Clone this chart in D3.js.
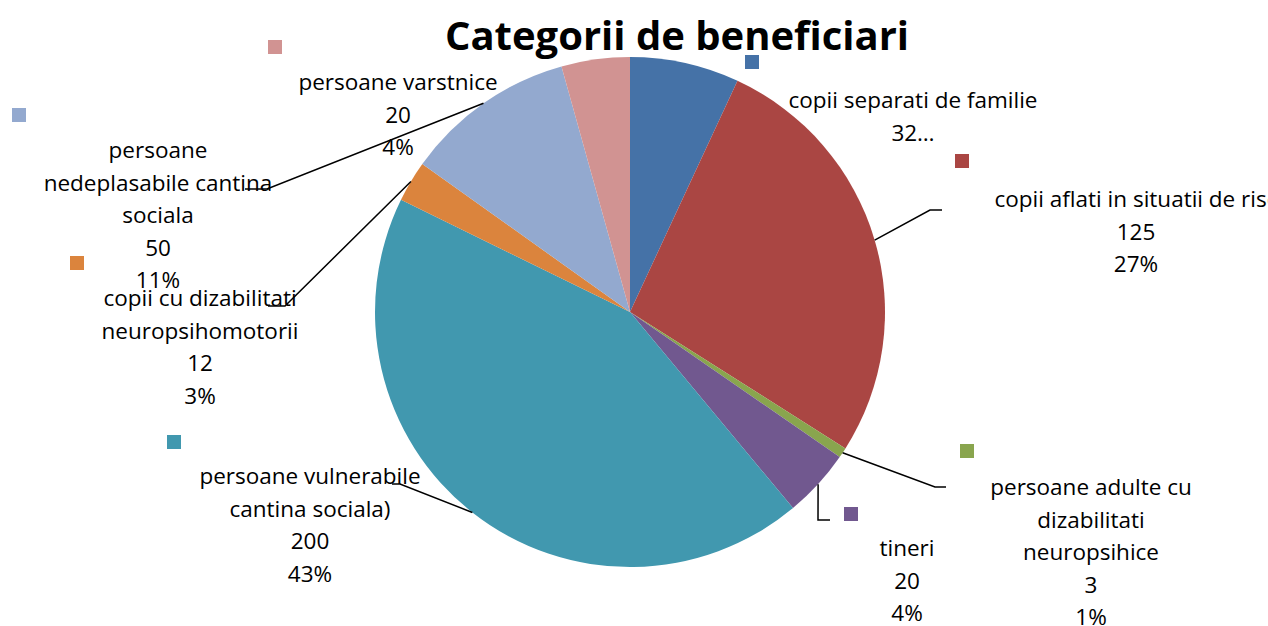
<!DOCTYPE html>
<html>
<head>
<meta charset="utf-8">
<script src="https://cdn.jsdelivr.net/npm/d3@7"></script>
<style>
  body { margin: 0; background: #fff; }
  svg { display: block; font-family: "Open Sans", "Noto Sans", sans-serif; }
</style>
</head>
<body>
<svg width="1268" height="626"></svg>
<script>
const width = 1268;
const height = 626;

// data
const categories = [
  "copii separati de familie",
  "copii aflati in situatii de risc",
  "persoane adulte cu dizabilitati neuropsihice",
  "tineri",
  "persoane vulnerabile cantina sociala)",
  "copii cu dizabilitati neuropsihomotorii",
  "persoane nedeplasabile cantina sociala",
  "persoane varstnice"
];
const values = [32, 125, 3, 20, 200, 12, 50, 20];
const colors = ["#4572A7", "#AA4643", "#89A54E", "#71588F", "#4198AF", "#DB843D", "#93A9CF", "#D19392"];

// how each label wraps, as in the original
const labelLines = [
  ["copii separati de familie"],
  ["copii aflati in situatii de risc"],
  ["persoane adulte cu", "dizabilitati", "neuropsihice"],
  ["tineri"],
  ["persoane vulnerabile", "cantina sociala)"],
  ["copii cu dizabilitati", "neuropsihomotorii"],
  ["persoane", "nedeplasabile cantina", "sociala"],
  ["persoane varstnice"]
];

// label layout: text centre x, first line y, legend key, leader elbow / end
const labelLayout = [
  { x: 913, y: 108, key: [745, 55], leader: null, truncValue: true },
  { x: 1136, y: 207, key: [955, 154], leader: [[930, 210], [942, 210]] },
  { x: 1091, y: 495, key: [960, 444], leader: [[935, 487], [946, 487]] },
  { x: 907, y: 556, key: [844, 507], leader: [[818, 520], [830, 520]] },
  { x: 310, y: 484, key: [167, 435], leader: [[400, 484], [392, 484]] },
  { x: 200, y: 306, key: [70, 256], leader: [[285, 306], [268, 306]] },
  { x: 158, y: 158, key: [12, 108], leader: [[267, 189], [245, 189]] },
  { x: 398, y: 90, key: [268, 40], leader: null }
];

const cx = 630, cy = 312, radius = 255;
const lineH = 32.5;

const svg = d3.select("svg");
const total = d3.sum(values);

const pie = d3.pie().sort(null).value(d => d)(values);
const arc = d3.arc().innerRadius(0).outerRadius(radius);

const g = svg.append("g").attr("transform", `translate(${cx},${cy})`);

g.selectAll("path")
  .data(pie)
  .join("path")
  .attr("d", arc)
  .attr("fill", (d, i) => colors[i]);

// leader lines from slice edge at mid angle
const leaders = svg.append("g")
  .attr("fill", "none")
  .attr("stroke", "#000")
  .attr("stroke-width", 1.5);

pie.forEach((d, i) => {
  const lay = labelLayout[i];
  if (!lay.leader) return;
  const a = (d.startAngle + d.endAngle) / 2;
  const start = [cx + radius * Math.sin(a), cy - radius * Math.cos(a)];
  leaders.append("path")
    .attr("d", d3.line()([start, ...lay.leader]));
});

// legend keys
svg.append("g")
  .selectAll("rect")
  .data(labelLayout)
  .join("rect")
  .attr("x", d => d.key[0])
  .attr("y", d => d.key[1])
  .attr("width", 14)
  .attr("height", 14)
  .attr("fill", (d, i) => colors[i]);

// labels
const labels = svg.append("g")
  .attr("font-size", 22.5)
  .attr("fill", "#000")
  .attr("text-anchor", "middle");

labelLayout.forEach((lay, i) => {
  const pct = Math.round(values[i] / total * 100) + "%";
  const lines = lay.truncValue
    ? [...labelLines[i], values[i] + "…"]
    : [...labelLines[i], String(values[i]), pct];
  const t = labels.append("text")
    .attr("x", lay.x)
    .attr("y", lay.y);
  lines.forEach((s, j) => {
    t.append("tspan")
      .attr("x", lay.x)
      .attr("dy", j === 0 ? 0 : lineH)
      .text(s);
  });
});

// title
svg.append("text")
  .attr("x", 677)
  .attr("y", 50)
  .attr("text-anchor", "middle")
  .attr("font-size", 40)
  .attr("font-weight", "bold")
  .text("Categorii de beneficiari");
</script>
</body>
</html>
